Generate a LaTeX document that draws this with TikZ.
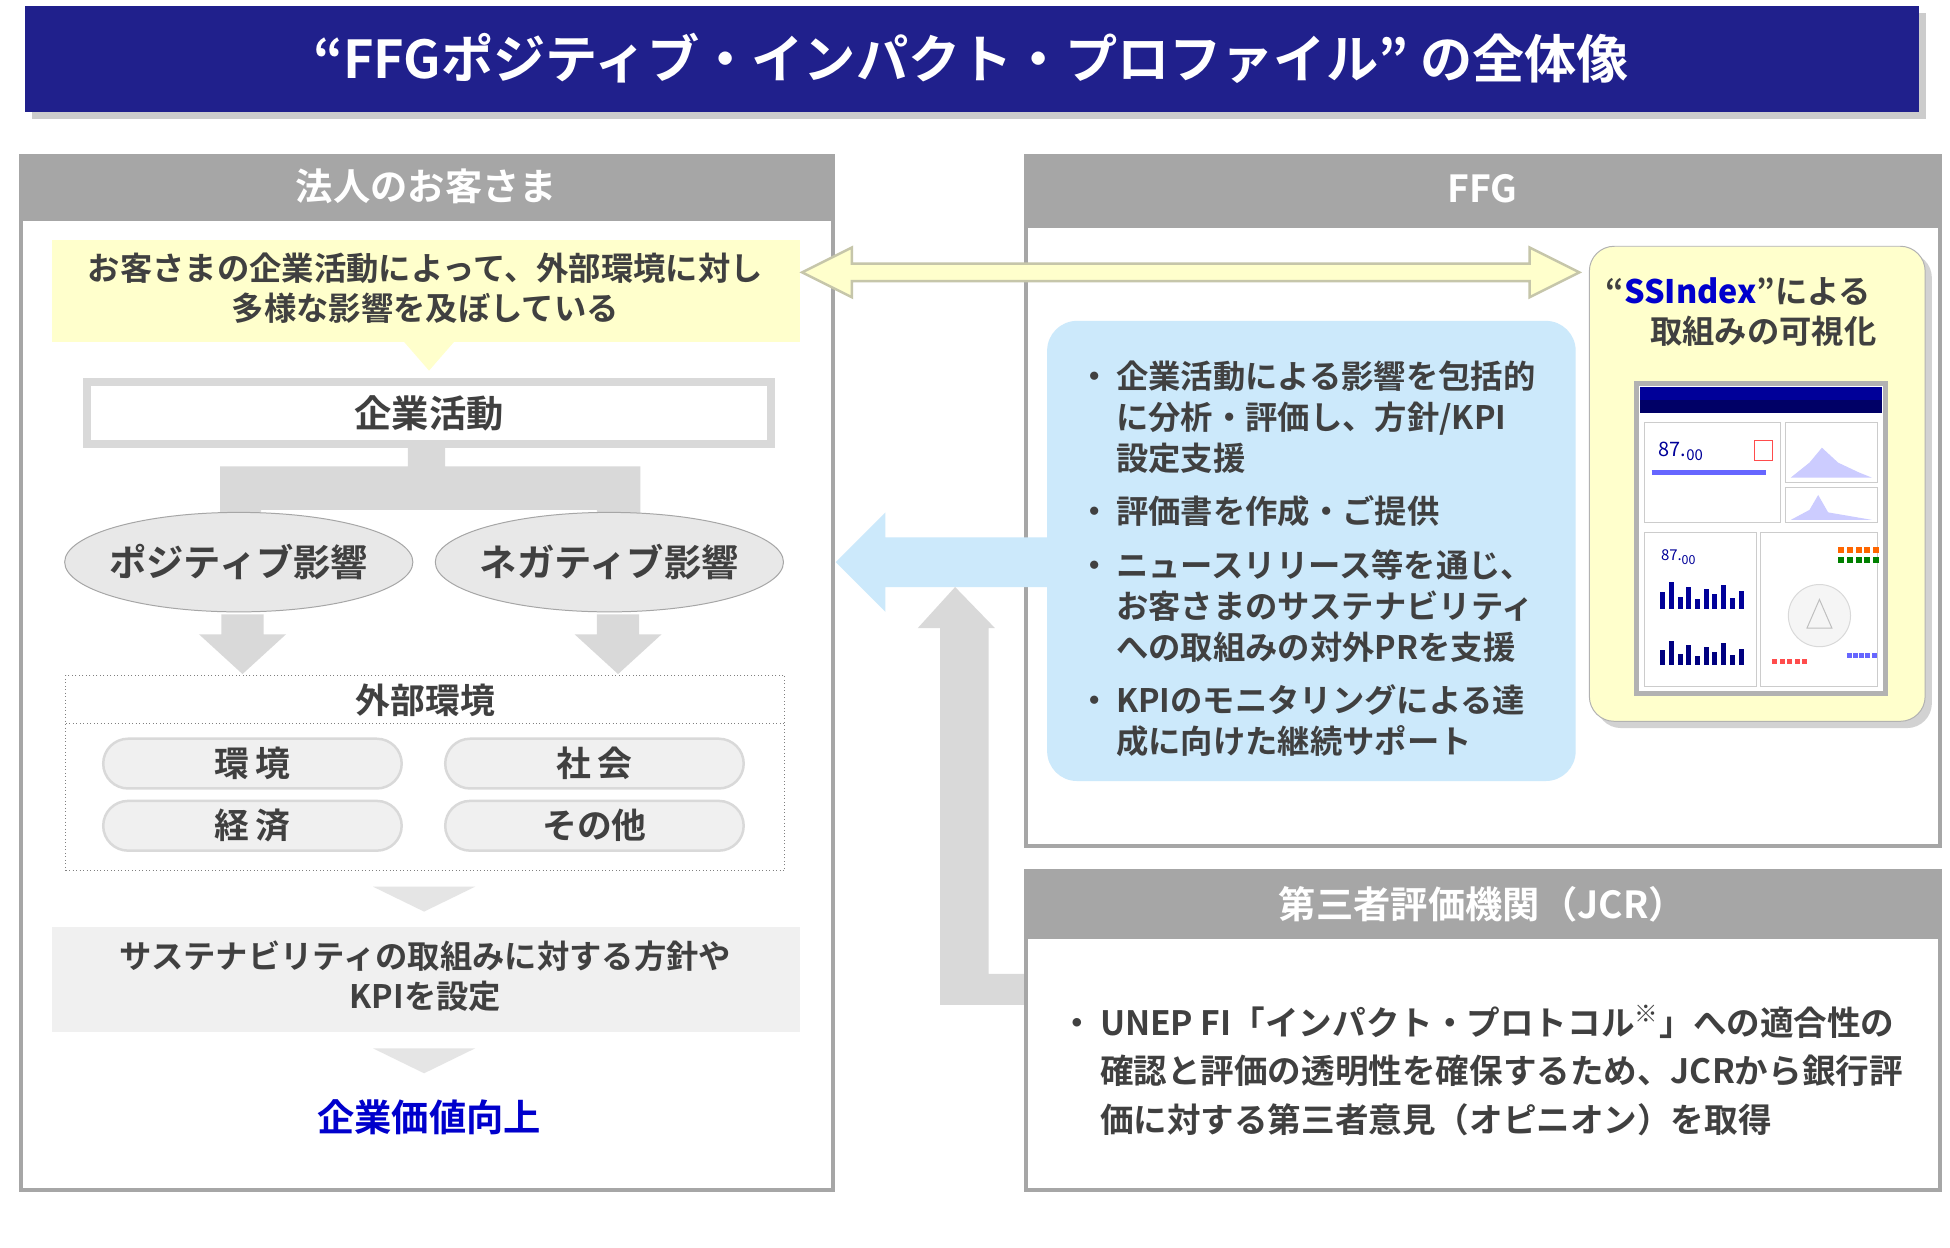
\documentclass[tikz,border=0pt]{standalone}
\usepackage{fontspec}
\setmainfont{Noto Sans CJK JP}[BoldFont={Noto Sans CJK JP Bold}]
\usetikzlibrary{positioning,shadows,shapes.geometric}
\definecolor{navy}{RGB}{32,32,140}
\definecolor{hdgray}{RGB}{166,166,166}
\definecolor{pale}{RGB}{255,255,204}
\definecolor{skyb}{RGB}{204,233,251}
\definecolor{lgray}{RGB}{217,217,217}
\definecolor{txt}{RGB}{64,64,64}
\tikzset{
  panel/.style={draw=hdgray,line width=1.5pt,fill=white},
  header/.style={fill=hdgray,text=white,font=\bfseries\fontsize{15}{18}\selectfont},
  body/.style={text=txt,font=\bfseries\fontsize{12.5}{16}\selectfont,align=center},
  pill/.style={draw=lgray,line width=1pt,fill=gray!12,rounded corners=10pt,minimum width=120pt,minimum height=20pt,body,font=\bfseries\fontsize{14}{16}\selectfont},
  oval/.style={body,font=\bfseries\fontsize{15}{16}\selectfont},
}
\begin{document}
\begin{tikzpicture}[x=0.5pt,y=-0.5pt]
\useasboundingbox[fill=white] (0,0) rectangle (1568,1003);

% title
\fill[navy,drop shadow={opacity=0.4}] (20,5) rectangle (1543,90);
\node[text=white,font=\bfseries\fontsize{21}{24}\selectfont] (title) at (781,47) {“FFGポジティブ・インパクト・プロファイル” の全体像};

% left panel
\draw[panel] (17,125) rectangle (670,957);
\fill[hdgray] (17,125) rectangle (670,178);
\node[header] (hdL) at (343,150) {法人のお客さま};
\fill[pale] (42,193) rectangle (643,275);
\node[body,font=\bfseries\fontsize{13}{16}\selectfont] (impact) at (342,232) {お客さまの企業活動によって、外部環境に対し\\多様な影響を及ぼしている};
\fill[pale] (325,275) -- (365,275) -- (345,298) -- cycle;
\draw[draw=lgray,line width=3pt] (70,307) rectangle (620,357);
\node[body,font=\bfseries\fontsize{15}{18}\selectfont] (act) at (345,332) {企業活動};
% tree
\fill[lgray] (328,357) -- (358,357) -- (358,375) -- (515,375) -- (515,420) -- (480,420) -- (480,410) -- (210,410) -- (210,420) -- (177,420) -- (177,375) -- (328,375) -- cycle;
\draw[gray!70,fill=gray!18] (192,452) ellipse (140 and 40);
\draw[gray!70,fill=gray!18] (490,452) ellipse (140 and 40);
\node[oval] (pos) at (192,452) {ポジティブ影響};
\node[oval] (neg) at (490,452) {ネガティブ影響};
\foreach \cx in {195,497}{
  \fill[lgray] (\cx-17,494) -- (\cx+17,494) -- (\cx+17,510) -- (\cx+35,510) -- (\cx,542) -- (\cx-35,510) -- (\cx-17,510) -- cycle;
}
% external environment
\draw[gray,densely dotted] (53,543) rectangle (631,700);
\draw[gray,densely dotted] (53,582) -- (631,582);
\node[body,font=\bfseries\fontsize{14}{16}\selectfont] (ext) at (342,563) {外部環境};
\node[pill] (env) at (203,614) {環\,境};
\node[pill] (soc) at (478,614) {社\,会};
\node[pill] (eco) at (203,664) {経\,済};
\node[pill] (oth) at (478,664) {その他};
\fill[gray!20] (300,713) -- (382,713) -- (341,733) -- cycle;
\fill[gray!12] (42,745) rectangle (643,830);
\node[body,font=\bfseries\fontsize{13}{16}\selectfont] (policy) at (342,785) {サステナビリティの取組みに対する方針や\\KPIを設定};
\fill[gray!20] (300,843) -- (382,843) -- (341,863) -- cycle;
\node[text={rgb,255:red,0;green,0;blue,204},font=\bfseries\fontsize{15}{18}\selectfont] (value) at (345,898) {企業価値向上};

% FFG panel
\draw[panel] (825,125) rectangle (1560,680);
\fill[hdgray] (825,125) rectangle (1560,183);
\node[header] (hdF) at (1192,152) {FFG};
% double arrow
\draw[fill=pale,draw=gray!45!pale,line width=1pt] (645,219) -- (685,199) -- (685,212) -- (1230,212) -- (1230,199) -- (1270,219) -- (1230,239) -- (1230,226) -- (685,226) -- (685,239) -- cycle;
\fill[skyb,rounded corners=12pt] (842,258) rectangle (1267,628);
\node[body,align=left,anchor=north west,font=\bfseries\fontsize{13}{16.5}\selectfont] (svc) at (860,282) {%
\begin{tabular}{@{}l@{\,}l@{}}
・ & 企業活動による影響を包括的\\
   & に分析・評価し、方針/KPI\\
   & 設定支援\\[5pt]
・ & 評価書を作成・ご提供\\[5pt]
・ & ニュースリリース等を通じ、\\
   & お客さまのサステナビリティ\\
   & への取組みの対外PRを支援\\[5pt]
・ & KPIのモニタリングによる達\\
   & 成に向けた継続サポート
\end{tabular}};
% SSIndex
\draw[fill=pale,draw=gray!60,rounded corners=10pt,drop shadow={opacity=0.35}] (1278,198) rectangle (1548,580);
\node[body,align=left,font=\bfseries\fontsize{13}{16}\selectfont] (ssi) at (1400,251) {“\textcolor{blue!80!black}{\itshape SSIndex}”による\\\hspace{18pt}取組みの可視化};
\draw[fill=white,draw=gray!60,line width=2pt] (1316,308) rectangle (1516,558);
\fill[blue!60!black] (1319,311) rectangle (1513,322);
\fill[blue!40!black] (1319,322) rectangle (1513,332);
\draw[gray!40] (1322,340) rectangle (1432,420);
\node[text=blue!60!black,font=\fontsize{8}{9}\selectfont] (sc1) at (1352,363) {87.\textsubscript{00}};
\draw[red!70] (1411,354) rectangle (1425,370);
\draw[blue!60,line width=2pt] (1328,380) -- (1420,380);
\draw[gray!40] (1436,340) rectangle (1510,388);
\fill[blue!20] (1440,384) -- (1455,372) -- (1465,360) -- (1478,372) -- (1495,380) -- (1505,384) -- cycle;
\draw[gray!40] (1436,392) rectangle (1510,420);
\fill[blue!20] (1440,418) -- (1455,410) -- (1462,398) -- (1470,412) -- (1505,418) -- cycle;
\draw[gray!40] (1322,428) rectangle (1412,552);
\draw[gray!40] (1416,428) rectangle (1510,552);
\node[text=blue!60!black,font=\fontsize{6}{7}\selectfont] (sc2) at (1350,448) {87.\textsubscript{00}};
\foreach \i/\h in {0/14,1/22,2/10,3/18,4/8,5/16,6/12,7/20,8/9,9/15}{
  \fill[blue!60!black] (1335+\i*7,490) rectangle (1339+\i*7,490-\h);
  \fill[blue!50!black] (1335+\i*7,535) rectangle (1339+\i*7,535-\h*0.9);
}
\draw[gray!30,fill=gray!8] (1463,495) circle (25);
\draw[gray!50] (1453,505) -- (1463,482) -- (1473,505) -- cycle;
\foreach \i in {0,...,4}{
  \fill[orange!80!red] (1478+\i*7,440) rectangle (1483+\i*7,445);
  \fill[green!50!black] (1478+\i*7,448) rectangle (1483+\i*7,453);
  \fill[red!70] (1425+\i*6,530) rectangle (1429+\i*6,534);
  \fill[blue!60] (1485+\i*5,525) rectangle (1489+\i*5,529);
}
% blue arrow left
\fill[skyb] (842,432) -- (712,432) -- (712,412) -- (672,452) -- (712,492) -- (712,472) -- (842,472) -- cycle;
% gray arrow up
\fill[lgray] (825,783) -- (795,783) -- (795,505) -- (800,505) -- (768,472) -- (738,505) -- (756,505) -- (756,808) -- (825,808) -- cycle;

% JCR panel
\draw[panel] (825,700) rectangle (1560,957);
\fill[hdgray] (825,700) rectangle (1560,755);
\node[header] (hdJ) at (1192,727) {第三者評価機関（JCR）};
\node[body,align=left,anchor=north west,font=\bfseries\fontsize{13.5}{19.5}\selectfont] (jcr) at (846,798) {%
\begin{tabular}{@{}l@{\,}l@{}}
・ & UNEP FI「インパクト・プロトコル\textsuperscript{※}」への適合性の\\
   & 確認と評価の透明性を確保するため、JCRから銀行評\\
   & 価に対する第三者意見（オピニオン）を取得
\end{tabular}};
\end{tikzpicture}
\end{document}
